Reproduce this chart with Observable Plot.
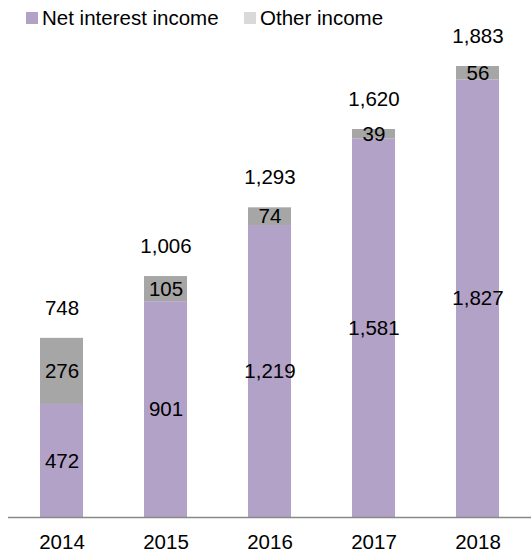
<!DOCTYPE html>
<html>
<head>
<meta charset="utf-8">
<script src="https://cdn.jsdelivr.net/npm/d3@7"></script>
<script src="https://cdn.jsdelivr.net/npm/@observablehq/plot@0.6"></script>
<style>
  body { margin: 0; background: #fff; font-family: "Liberation Sans", Arial, sans-serif; }
  #wrap { position: relative; width: 531px; height: 552px; overflow: hidden; }
  #chart { position: absolute; left: 0; top: 0; }
  #legend { position: absolute; left: 0; top: 0; height: 30px; width: 531px; font-size: 20.5px; color: #000; z-index: 2; }
  .item { position: absolute; top: 6px; display: flex; align-items: center; white-space: nowrap; line-height: 24px; }
  .sw { width: 12px; height: 12px; margin-right: 4px; }
</style>
</head>
<body>
<div id="wrap">
  <div id="chart"></div>
  <div id="legend"></div>
</div>
<script>
const years = ["2014", "2015", "2016", "2017", "2018"];
const netInterestIncome = [472, 901, 1219, 1581, 1827];
const otherIncome = [276, 105, 74, 39, 56];
const totals = [748, 1006, 1293, 1620, 1883];
const seriesNames = ["Net interest income", "Other income"];
const barColors = ["#b3a2c7", "#a6a6a6"];
const legendColors = ["#b3a2c7", "#d9d9d9"];

const rows = [];
years.forEach((y, i) => {
  rows.push({year: y, series: seriesNames[0], value: netInterestIncome[i]});
  rows.push({year: y, series: seriesNames[1], value: otherIncome[i]});
});
const totalRows = years.map((y, i) => ({year: y, total: totals[i]}));
const fmt = d3.format(",");

// legend
const legend = document.getElementById("legend");
const legendX = [26, 244];
seriesNames.forEach((s, i) => {
  const it = document.createElement("div");
  it.className = "item";
  it.style.left = legendX[i] + "px";
  const sw = document.createElement("div");
  sw.className = "sw";
  sw.style.background = legendColors[i];
  it.appendChild(sw);
  const t = document.createElement("span");
  t.textContent = s;
  it.appendChild(t);
  legend.appendChild(it);
});

const FS = 20.5;
const chart = Plot.plot({
  width: 531,
  height: 552,
  marginLeft: 8,
  marginRight: 0,
  marginTop: 38,
  marginBottom: 35,
  style: {fontFamily: "Liberation Sans, Arial, sans-serif", fontSize: FS + "px", color: "#000", background: "#fff"},
  x: {domain: years, paddingInner: 0.59, paddingOuter: 0.295, label: null},
  y: {domain: [0, 2000], axis: null},
  color: {domain: seriesNames, range: barColors},
  marks: [
    Plot.barY(rows, {x: "year", y: "value", fill: "series", order: seriesNames}),
    Plot.text(rows, Plot.stackY({x: "year", y: "value", z: "series", order: seriesNames, text: d => fmt(d.value), fontSize: FS, fill: "#000"})),
    Plot.text(totalRows, {x: "year", y: "total", text: d => fmt(d.total), dy: -30, fontSize: FS, fill: "#000"}),
    Plot.ruleY([0], {stroke: "#888888", strokeWidth: 1.5}),
    Plot.axisX({tickSize: 0, tickPadding: 17, fontSize: FS, label: null, fill: "#000"})
  ]
});
document.getElementById("chart").appendChild(chart);
</script>
</body>
</html>
